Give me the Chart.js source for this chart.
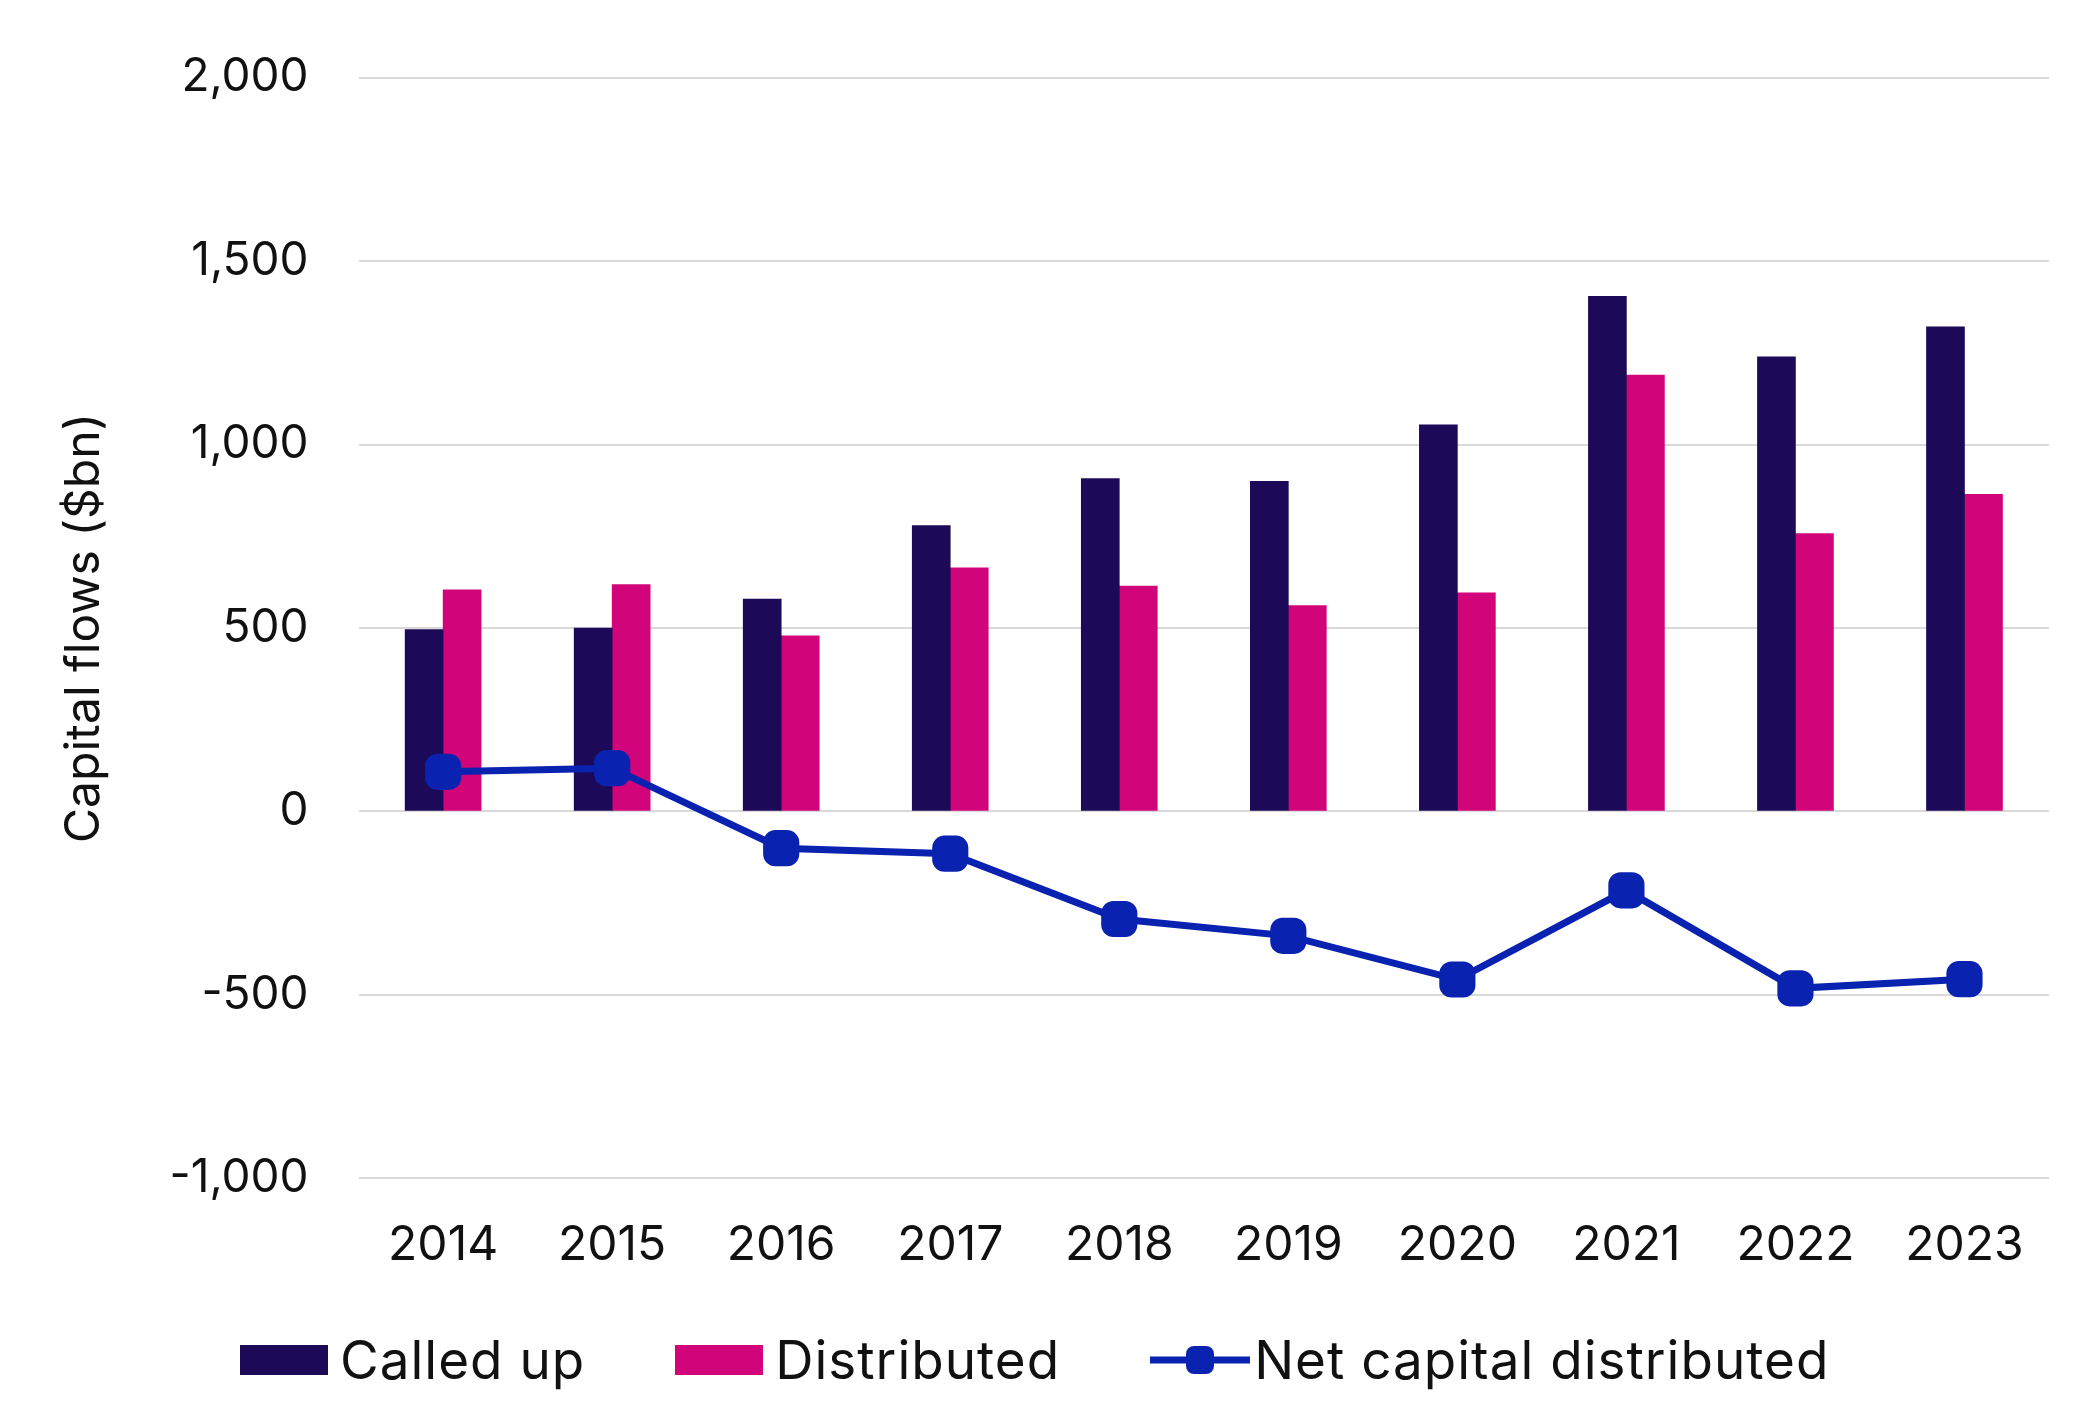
<!DOCTYPE html>
<html>
<head>
<meta charset="utf-8">
<script src="https://cdn.jsdelivr.net/npm/chart.js@4"></script>
<style>
  body { margin: 0; background: #fff; font-family: Inter, sans-serif; }
  #wrap { position: relative; width: 2099px; height: 1426px; }
  #legend { position: absolute; top: 1328px; left: 240px; display: flex; align-items: center; font-size: 53px; letter-spacing: 1px; color: #111; }
  .item { display: flex; align-items: center; margin-right: 90px; }
  .box { width: 88px; height: 30px; margin-right: 12px; }
</style>
</head>
<body>
<div id="wrap">
  <canvas id="c" width="2099" height="1324" style="width:2099px;height:1324px"></canvas>
  <div id="legend">
    <div class="item"><div class="box" style="background:#1c0957"></div>Called up</div>
    <div class="item"><div class="box" style="background:#d1047a"></div>Distributed</div>
    <div class="item"><svg width="100" height="40" style="margin-right:4px"><line x1="0" y1="20" x2="100" y2="20" stroke="#0a22b0" stroke-width="7"/><rect x="36" y="6" width="28" height="28" rx="8" fill="#0a22b0"/></svg>Net capital distributed</div>
  </div>
</div>
<script>
// -- Data --
const years = ["2014", "2015", "2016", "2017", "2018", "2019", "2020", "2021", "2022", "2023"];
const calledUp = [496, 500, 579, 779, 907, 900, 1054, 1404, 1239, 1321];
const distributed = [604, 618, 479, 664, 614, 561, 596, 1189, 757, 864];
const netDistributed = [108, 118, -100, -115, -293, -339, -458, -215, -482, -457];

const ctx = document.getElementById("c").getContext("2d");
new Chart(ctx, {
  data: {
    labels: years,
    datasets: [
      {
        type: "line",
        label: "Net capital distributed",
        data: netDistributed,
        borderColor: "#0a22b0",
        backgroundColor: "#0a22b0",
        borderWidth: 7,
        pointStyle: "rectRounded",
        pointRadius: 17,
        tension: 0,
        order: 0,
      },
      {
        type: "bar",
        label: "Called up",
        data: calledUp,
        backgroundColor: "#1c0957",
        barThickness: 38,
        categoryPercentage: 0.62,
        order: 1,
      },
      {
        type: "bar",
        label: "Distributed",
        data: distributed,
        backgroundColor: "#d1047a",
        barThickness: 38,
        categoryPercentage: 0.62,
        order: 1,
      },
    ],
  },
  options: {
    responsive: false,
    animation: false,
    layout: { padding: { left: 50, right: 50, top: 10, bottom: 20 } },
    plugins: { legend: { display: false }, tooltip: { enabled: false } },
    scales: {
      x: {
        grid: { display: false },
        border: { display: false },
        ticks: { color: "#111", font: { family: "Inter", size: 48 }, padding: 30 },
      },
      y: {
        min: -1000,
        max: 2000,
        ticks: {
          stepSize: 500,
          color: "#111",
          padding: 50,
          font: { family: "Inter", size: 46 },
          callback: (v) => v.toLocaleString("en-US"),
        },
        grid: { color: "#d9d9d9", lineWidth: 2, drawTicks: false },
        border: { display: false },
        title: { display: true, text: "Capital flows ($bn)", color: "#111", font: { family: "Inter", size: 48 }, padding: 6 },
      },
    },
  },
});
</script>
</body>
</html>
